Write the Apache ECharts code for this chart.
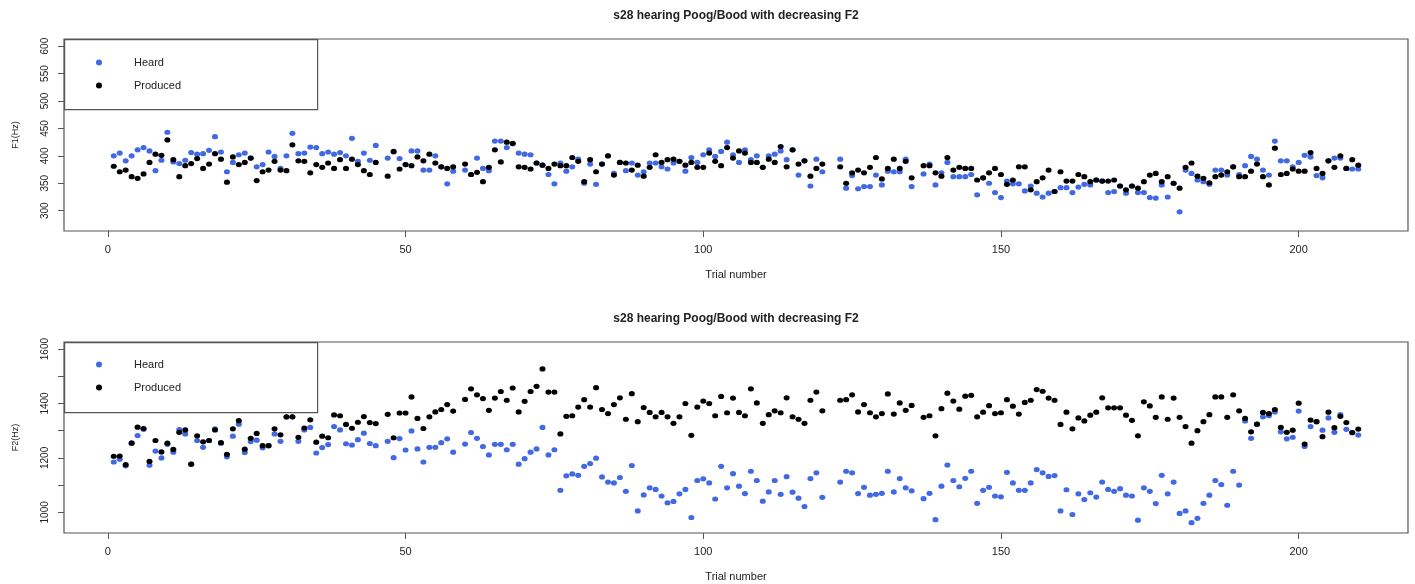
<!DOCTYPE html>
<html>
<head>
<meta charset="utf-8">
<title>s28 hearing Poog/Bood</title>
<script src="https://cdn.jsdelivr.net/npm/echarts@6/dist/echarts.min.js"></script>
<style>
  html, body { margin: 0; padding: 0; background: #fff; }
  #main { width: 1415px; height: 584px; }
</style>
</head>
<body>
<div id="main"></div>
<script>
var chartTitle = 's28 hearing Poog/Bood with decreasing F2';
var seriesNames = ['Heard', 'Produced'];
var xTicks = [0, 50, 100, 150, 200];
var f1Ticks = [300, 350, 400, 450, 500, 550, 600];
var f2Ticks = [1000, 1100, 1200, 1300, 1400, 1500, 1600];
var f2Labels = [1000, 1200, 1400, 1600];

// one value per trial (trial 1 first), null = trial missing
var f1Heard = [
  400,405,391,400,411,415,409,373,392,443, 389,386,392,406,403,404,410,435,407,371,
  388,402,405,396,380,384,407,399,377,400, 441,404,405,416,415,404,407,403,406,400,
  432,390,405,392,419,null,396,407,395,384, 409,409,374,374,400,380,349,372,null,374,
  366,396,377,373,427,427,415,422,405,403, 402,387,383,366,349,387,372,380,394,350,
  385,348,385,400,368,388,373,387,365,371, 387,387,380,376,387,390,372,397,388,402,
  411,399,408,425,402,388,411,393,400,379, 400,403,409,393,411,365,391,345,394,371,
  null,null,394,341,364,340,344,344,365,347, 372,371,371,394,344,null,367,385,347,369,
  388,362,362,362,366,329,360,350,333,324, 354,349,349,336,345,332,325,332,335,342,
  342,333,343,348,347,356,354,333,335,345, 332,345,333,333,324,323,347,325,350,298,
  374,368,356,353,348,374,374,365,380,366, 382,399,394,374,365,427,391,391,380,388,
  401,398,364,360,391,396,396,377,376,376
];
var f1Produced = [
  381,371,374,362,359,367,388,403,401,429, 393,362,382,386,395,377,385,404,394,352,
  398,384,388,396,355,371,374,390,374,373, 420,391,390,369,384,379,387,377,393,377,
  394,384,373,366,388,null,363,408,376,384, 382,398,391,403,387,380,377,380,null,385,
  366,370,353,379,411,389,425,423,380,379, 376,387,383,377,385,382,382,397,390,353,
  393,371,385,400,365,388,387,374,383,363, 379,402,388,393,394,390,383,388,379,379,
  405,390,382,415,396,409,405,388,388,379, 394,388,417,380,411,385,391,363,377,385,
  null,null,380,350,369,374,369,379,397,358, 377,394,377,390,360,null,382,382,369,363,
  397,374,379,377,377,356,360,369,377,366, 348,356,380,380,338,353,360,374,335,371,
  354,354,366,362,353,356,354,354,356,345, 338,345,341,353,365,368,353,362,350,341,
  379,387,363,359,351,362,365,371,380,362, 362,372,385,362,347,414,366,368,376,372,
  372,406,377,368,391,379,400,377,393,383
];
var f2Heard = [
  1185,1195,1171,1255,1282,1305,1173,1225,1200,1250, 1221,1304,1288,1177,1264,1239,1264,1307,1254,1204,
  1280,1324,1220,1260,1265,1237,1245,1288,1261,1350, 1351,1261,1303,1312,1218,1238,1249,1315,1303,1252,
  1247,1267,1291,1253,1245,null,1261,1201,1271,1229, 1299,1233,1185,1239,1239,1256,1270,1221,null,1251,
  1293,1272,1242,1211,1250,1250,1230,1250,1177,1197, 1221,1233,1312,1211,1230,1081,1134,1141,1136,1169,
  1179,1199,1130,1111,1108,1128,1077,1172,1005,1064, 1090,1084,1060,1035,1040,1068,1084,981,1117,1123,
  1108,1049,1169,1090,1142,1096,1069,1151,1117,1041, 1075,1117,1066,1131,1074,1052,1021,1124,1145,1055,
  null,null,1111,1151,1145,1069,1092,1063,1066,1070, 1151,1075,1124,1090,1079,null,1050,1070,973,1096,
  1174,1117,1094,1125,1151,1033,1081,1092,1060,1057, 1147,1108,1081,1081,1108,1157,1145,1132,1135,1005,
  1083,992,1068,1047,1072,1056,1111,1084,1077,1087, 1063,1060,971,1090,1077,1032,1136,1068,1111,996,
  1005,962,978,1033,1063,1117,1102,1026,1151,1100, 1336,1272,1324,1351,1355,1369,1296,1270,1276,1372,
  1242,1315,1333,1302,1347,1294,1359,1305,1293,1284
];
var f2Produced = [
  1206,1207,1175,1254,1313,1308,1187,1264,1222,1254, 1231,1294,1303,1177,1281,1259,1264,1303,1256,1213,
  1307,1337,1232,1272,1290,1245,1245,1307,1285,1351, 1351,1276,1310,1340,1258,1280,1274,1358,1355,1323,
  1309,1331,1352,1330,1326,null,1360,1274,1365,1365, 1424,1345,1308,1351,1369,1378,1396,1372,null,1415,
  1454,1432,1418,1375,1420,1444,1412,1457,1369,1408, 1444,1463,1527,1442,1442,1288,1353,1355,1387,1414,
  1387,1458,1378,1363,1396,1421,1342,1436,1333,1385, 1367,1351,1367,1351,1327,1351,1400,1283,1387,1409,
  1400,1355,1426,1366,1420,1367,1355,1454,1402,1327, 1359,1373,1366,1421,1351,1342,1327,1412,1442,1373,
  null,null,1412,1414,1432,1369,1396,1366,1351,1363, 1435,1361,1402,1375,1393,null,1349,1355,1281,1381,
  1438,1409,1379,1427,1430,1351,1368,1392,1363,1366, 1414,1390,1361,1404,1412,1451,1445,1420,1412,1323,
  1368,1307,1347,1336,1357,1368,1421,1384,1384,1384, 1357,1338,1281,1406,1391,1349,1424,1342,1420,1349,
  1315,1254,1300,1333,1359,1424,1424,1349,1432,1373, 1345,1296,1324,1367,1363,1378,1312,1294,1302,1401,
  1251,1339,1333,1278,1368,1311,1353,1330,1293,1306
];

var blue = '#4169e1';
var ink = '#222';
var frame = '#555';

function pairs(arr) {
  var out = [];
  arr.forEach(function (v, i) {
    if (v !== null) out.push([i + 1, v]);
  });
  return out;
}

var myChart = echarts.init(document.getElementById('main'));

function xAxisFor(idx) {
  return {
    type: 'value', gridIndex: idx, min: -7.36, max: 218.36,
    name: 'Trial number', nameLocation: 'middle', nameGap: 38,
    nameTextStyle: { fontSize: 11, color: ink },
    axisLine: { show: false, onZero: false },
    axisTick: { show: true, length: 6, customValues: xTicks, lineStyle: { color: frame } },
    axisLabel: { customValues: xTicks, fontSize: 11, color: ink, margin: 13 },
    splitLine: { show: false }
  };
}

function yAxisFor(idx, lo, hi, ticks, labels, title) {
  return {
    type: 'value', gridIndex: idx, min: lo, max: hi,
    name: title, nameLocation: 'middle', nameGap: 44,
    nameTextStyle: { fontSize: 9, color: ink },
    axisLine: { show: false, onZero: false },
    axisTick: { show: true, length: 6, customValues: ticks, lineStyle: { color: frame } },
    axisLabel: {
      customValues: labels, rotate: 90, fontSize: 10, color: ink, margin: 14,
      formatter: function (v) { return String(v); }
    },
    splitLine: { show: false }
  };
}

function scatter(name, x, data, color) {
  return {
    name: name, type: 'scatter', xAxisIndex: x, yAxisIndex: x,
    symbol: 'circle', symbolSize: [6, 5.2],
    itemStyle: { color: color, opacity: 1 },
    emphasis: { disabled: true },
    data: pairs(data)
  };
}

function legendFor(top) {
  return {
    orient: 'vertical', left: 96, top: top, padding: 0,
    icon: 'circle', itemWidth: 60, itemHeight: 6, itemGap: 12,
    data: seriesNames, selectedMode: false,
    textStyle: { fontSize: 11, color: ink }
  };
}

function legendBox(top) {
  return {
    type: 'rect', left: 64, top: top, z: 1,
    shape: { width: 253, height: 70 },
    style: { fill: '#fff', stroke: frame, lineWidth: 1.2 }
  };
}

option = {
  backgroundColor: '#fff',
  animation: false,
  textStyle: { fontFamily: 'Liberation Sans, Arial, sans-serif' },
  title: [
    { text: chartTitle, left: 736, top: 10, padding: 0, textAlign: 'center',
      textStyle: { fontSize: 12, fontWeight: 'bold', color: ink } },
    { text: chartTitle, left: 736, top: 313, padding: 0, textAlign: 'center',
      textStyle: { fontSize: 12, fontWeight: 'bold', color: ink } }
  ],
  grid: [
    { left: 64, top: 39, width: 1344, height: 192, show: true,
      borderColor: frame, borderWidth: 1.2, backgroundColor: 'transparent' },
    { left: 64, top: 342, width: 1344, height: 191, show: true,
      borderColor: frame, borderWidth: 1.2, backgroundColor: 'transparent' }
  ],
  legend: [legendFor(57), legendFor(359)],
  graphic: [legendBox(39), legendBox(342)],
  xAxis: [xAxisFor(0), xAxisFor(1)],
  yAxis: [
    yAxisFor(0, 263, 613, f1Ticks, f1Ticks, 'F1(Hz)'),
    yAxisFor(1, 924, 1626, f2Ticks, f2Labels, 'F2(Hz)')
  ],
  series: [
    scatter(seriesNames[0], 0, f1Heard, blue),
    scatter(seriesNames[1], 0, f1Produced, '#000'),
    scatter(seriesNames[0], 1, f2Heard, blue),
    scatter(seriesNames[1], 1, f2Produced, '#000')
  ]
};
myChart.setOption(option);

window.addEventListener('resize', function () {
  myChart.resize();
});
</script>
</body>
</html>
